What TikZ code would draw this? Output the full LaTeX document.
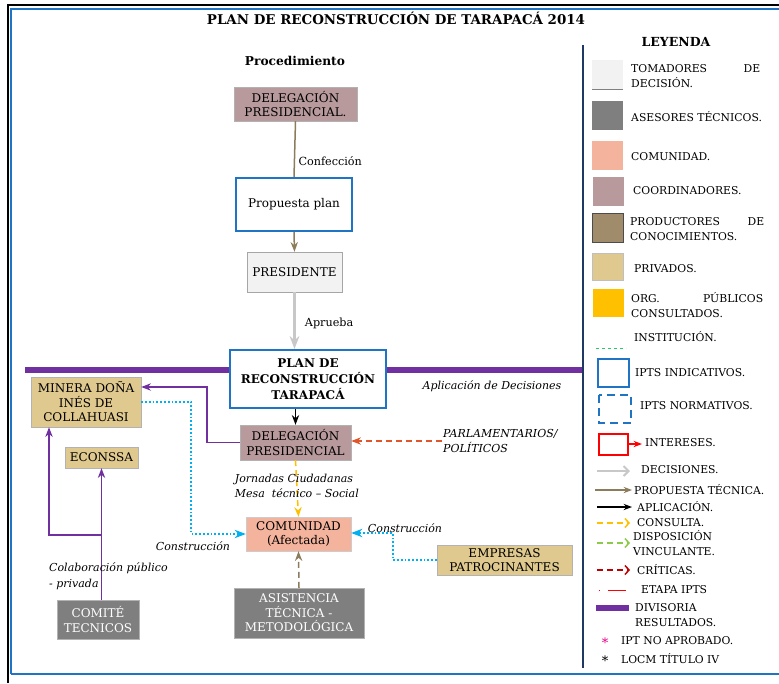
\documentclass[tikz,border=0pt]{standalone}
\usepackage{fontspec}
\setmainfont{DejaVu Serif}
\usetikzlibrary{positioning,arrows.meta,calc}
\definecolor{tomgris}{HTML}{F2F2F2}
\definecolor{asegris}{HTML}{7F7F7F}
\definecolor{comsalmon}{HTML}{F4B39C}
\definecolor{coordmauve}{HTML}{B89A9C}
\definecolor{prodbrown}{HTML}{A08C6A}
\definecolor{privtan}{HTML}{DFC98F}
\definecolor{orgnaranja}{HTML}{FFC000}
\definecolor{iptazul}{HTML}{1F74C4}
\definecolor{divmorado}{HTML}{7030A0}
\definecolor{constcian}{HTML}{00B0F0}
\definecolor{propcafe}{HTML}{8C7C5C}
\definecolor{decgris}{HTML}{C8C8C8}
\definecolor{critnaranja}{HTML}{E0562A}
\definecolor{critrojo}{HTML}{C00000}
\definecolor{dispverde}{HTML}{8CCB4A}
\definecolor{instverde}{HTML}{22CC66}
\definecolor{marino}{HTML}{1F3864}
\newcommand{\txt}{\fontsize{12}{14.5}\selectfont}
\newcommand{\ley}{\fontsize{10.8}{15}\selectfont}
\tikzset{
  >=Stealth,
  guion/.style={dash pattern=on 6pt off 4pt},
  caja/.style={inner sep=1pt, align=center, font=\txt},
  tomador/.style={caja, fill=tomgris, draw=gray!70},
  asesor/.style={caja, fill=asegris, text=white, draw=gray!60},
  comunidad/.style={caja, fill=comsalmon, draw=gray!40},
  coordinador/.style={caja, fill=coordmauve, draw=gray!60},
  privado/.style={caja, fill=privtan, draw=gray!60},
  ipts/.style={caja, fill=white, draw=iptazul, line width=2pt},
  decision/.style={->, draw=decgris, line width=2.2pt},
  propuesta/.style={->, draw=propcafe, line width=1.5pt},
  aplica/.style={->, draw=black, line width=1.5pt},
  consulta/.style={->, draw=orgnaranja, line width=1.5pt, guion},
  critica/.style={->, draw=critnaranja, line width=1.5pt, guion},
  construye/.style={->, draw=constcian, line width=1.8pt, dotted},
  colabora/.style={->, draw=divmorado, line width=1.5pt},
  etiqueta/.style={font=\fontsize{11}{15.5}\selectfont\itshape, inner sep=1pt, align=left, text=black},
  rotulo/.style={font=\fontsize{11.2}{13}\selectfont, text=black},
  swatch/.style={minimum width=31pt, minimum height=29pt, inner sep=0pt},
  leytxt/.style={anchor=west, font=\ley, inner sep=0pt, align=left},
}
\begin{document}
\begin{tikzpicture}[x=1pt,y=-1pt]
\useasboundingbox (0,0) rectangle (779,683);

% marco
\draw[black, line width=2.5pt] (8,683) -- (8,5) -- (779,5);
\draw[iptazul, line width=2pt] (11,674) -- (11,9) -- (779,9);
\draw[iptazul, line width=2pt] (11,674) -- (779,674);

\node[font=\fontsize{13.4}{15}\selectfont\bfseries] (titulo) at (396,18) {PLAN DE RECONSTRUCCIÓN DE TARAPACÁ 2014};
\node[font=\fontsize{12.2}{14}\selectfont\bfseries] (proced) at (295,61) {Procedimiento};

% divisoria resultados
\draw[divmorado, line width=6pt] (25,370) -- (583,370);

% procedimiento
\node[coordinador, minimum width=123pt, minimum height=34pt] (deleg1) at (295.5,104) {DELEGACIÓN\\PRESIDENCIAL.};
\node[ipts, minimum width=116pt, minimum height=53pt] (prop) at (294,204.5) {Propuesta plan};
\node[tomador, minimum width=95pt, minimum height=40pt] (pres) at (294.5,272) {PRESIDENTE};
\node[ipts, minimum width=156pt, minimum height=58pt, font=\fontsize{12}{16}\selectfont\bfseries] (plan) at (308,379) {PLAN DE\\RECONSTRUCCIÓN\\TARAPACÁ};
\node[coordinador, minimum width=111pt, minimum height=35pt] (deleg2) at (295.5,442.5) {DELEGACIÓN\\PRESIDENCIAL};

\node[privado, minimum width=110pt, minimum height=50pt] (minera) at (86,402) {MINERA DOÑA\\INÉS DE\\COLLAHUASI};
\node[privado, minimum width=73pt, minimum height=21pt] (econssa) at (101.5,457.5) {ECONSSA};
\node[asesor, minimum width=82pt, minimum height=39pt] (comite) at (98,619.5) {COMITÉ\\TECNICOS};
\node[comunidad, minimum width=105pt, minimum height=34pt] (comun) at (298.5,534) {COMUNIDAD\\(Afectada)};
\node[asesor, minimum width=130pt, minimum height=50pt] (asist) at (299,613) {ASISTENCIA\\TÉCNICA -\\METODOLÓGICA};
\node[privado, minimum width=135pt, minimum height=30pt] (empresas) at (504.5,560) {EMPRESAS\\PATROCINANTES};
\node[etiqueta, anchor=west] (parl) at (442,441) {PARLAMENTARIOS/\\POLÍTICOS};

\coordinate (colab) at (101,535);

\draw[propcafe, line width=1.5pt] (deleg1.south) -- node[pos=.72, right, rotulo] {Confección} (prop.north);
\draw[propuesta] (prop.south) -- (pres.north);
\draw[decision] (pres.south) -- node[pos=.55, right=6pt, rotulo] {Aprueba} (pres.south |- plan.north);
\draw[aplica] (deleg2.north |- plan.south) -- (deleg2.north);
\node[etiqueta] (aplic) at (492,386) {Aplicación de Decisiones};

\draw[critica] (parl.west) -- (parl.west -| deleg2.east);
\draw[colabora] (deleg2.west) -- ++(-33,0) |- ([yshift=15pt]minera.east);
\draw[construye] (minera.east) -- ++(50,0) |- (comun.west);
\draw[construye] (empresas.west) -- ++(-44,0) |- ([yshift=1pt]comun.east);
\node[etiqueta] at (405,528) {Construcción};
\node[etiqueta] at (193,546) {Construcción};
\draw[consulta] (deleg2.south) -- node[etiqueta, pos=.45] {Jornadas Ciudadanas\\Mesa\ \ técnico – Social} (comun.north);
\draw[propcafe, line width=1.5pt, guion, ->] (asist.north) -- (comun.south);
\draw[colabora] (econssa.south |- comite.north) -- (econssa.south);
\draw[colabora] (colab) -| ([xshift=-37pt]minera.south);
\node[etiqueta, anchor=west] at (48,576) {Colaboración público\\- privada};

% leyenda
\draw[marino, line width=2pt] (583,45) -- (583,668);
\node[font=\fontsize{12.5}{14}\selectfont\bfseries] (leyenda) at (676,42) {LEYENDA};

\node[swatch, fill=tomgris] (ley1) at (607.5,74) {};
\draw[gray] (ley1.south west) -- (ley1.south east);
\node[leytxt, text width=129pt] at (631,76) {TOMADORES\hfill DE\\DECISIÓN.};
\node[swatch, fill=asegris] (ley2) at (607.5,115) {};
\node[leytxt] at (631,117) {ASESORES TÉCNICOS.};
\node[swatch, fill=comsalmon] (ley3) at (607.5,155) {};
\node[leytxt] at (631,157) {COMUNIDAD.};
\node[swatch, fill=coordmauve] (ley4) at (608,191) {};
\node[leytxt] at (633,191) {COORDINADORES.};
\node[swatch, fill=prodbrown, draw=gray!60!black] (ley5) at (608,228) {};
\node[leytxt, text width=134pt] at (630,229.5) {PRODUCTORES\hfill DE\\CONOCIMIENTOS.};
\node[swatch, fill=privtan, minimum height=27pt, draw=gray!50] (ley6) at (608,266.5) {};
\node[leytxt] at (634,269) {PRIVADOS.};
\node[swatch, fill=orgnaranja, minimum height=28pt] (ley7) at (608,303) {};
\node[leytxt, text width=132pt] at (631,305.5) {ORG.\hfill PÚBLICOS\\CONSULTADOS.};
\draw[instverde, dashed, line width=.8pt] (596,348) -- (626,348);
\node[leytxt] at (634,337) {INSTITUCIÓN.};
\draw[iptazul, line width=1.5pt] (598,359) rectangle (629,387);
\node[leytxt] at (635,373) {IPTS INDICATIVOS.};
\draw[iptazul, line width=1.5pt, dash pattern=on 8pt off 5pt] (599,395) rectangle (631,423);
\node[leytxt] at (640,406) {IPTS NORMATIVOS.};
\draw[red, line width=1.5pt] (599,434) rectangle (628,455);
\draw[red, line width=1.2pt, ->] (628,444) -- (642,444);
\node[leytxt] at (645,443) {INTERESES.};
\draw[decgris, line width=2pt, -{Straight Barb[length=5pt,width=10pt]}] (597,471) -- (630,471);
\node[leytxt] at (641,470) {DECISIONES.};
\draw[propuesta, line width=1.2pt] (595,490) -- (632,490);
\node[leytxt] at (634,490) {PROPUESTA TÉCNICA.};
\draw[aplica, line width=1.2pt] (597,507) -- (632,507);
\node[leytxt] at (637,507) {APLICACIÓN.};
\draw[orgnaranja, line width=1.5pt, guion, -{Straight Barb[length=4pt,width=9pt]}] (597,523) -- (630,523);
\node[leytxt] at (637,523) {CONSULTA.};
\draw[dispverde, line width=1.5pt, guion, -{Straight Barb[length=4pt,width=9pt]}] (597,543) -- (630,543);
\node[leytxt] at (633,543) {DISPOSICIÓN\\VINCULANTE.};
\draw[critrojo, line width=1.5pt, guion, -{Straight Barb[length=4pt,width=9pt]}] (597,570) -- (630,570);
\node[leytxt] at (637,570) {CRÍTICAS.};
\draw[red, line width=1pt, dash pattern=on 1pt off 8pt on 18pt off 0pt] (599,590) -- (626,590);
\node[leytxt] at (641,590) {ETAPA IPTS};
\draw[divmorado, line width=6pt] (596,608) -- (629,608);
\node[leytxt] at (635,615.5) {DIVISORIA\\RESULTADOS.};
\node[text=magenta, font=\fontsize{13}{14}\selectfont] (ast1) at (605,643) {*};
\node[leytxt] at (621,641) {IPT NO APROBADO.};
\node[font=\fontsize{13}{14}\selectfont] (ast2) at (605,661) {*};
\node[leytxt] at (621,659) {LOCM TÍTULO IV};
\end{tikzpicture}
\end{document}
